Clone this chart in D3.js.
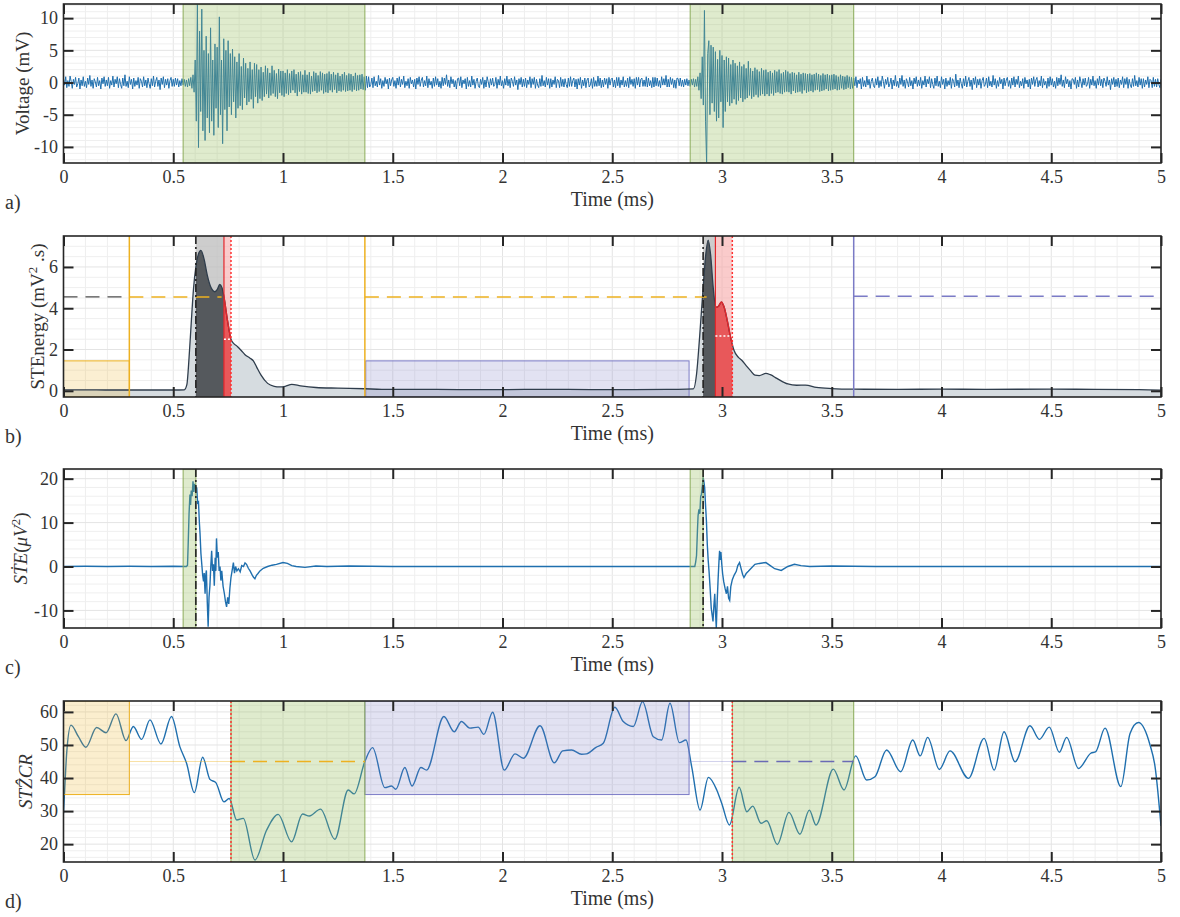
<!DOCTYPE html>
<html><head><meta charset="utf-8">
<script src="https://cdn.jsdelivr.net/npm/d3@7"></script>
<style>
body{margin:0;background:#fff;}
svg{display:block;font-family:"Liberation Serif","Times New Roman",serif;}
</style></head><body>
<svg id="fig" width="1180" height="917"></svg>
<script>
// ---- shared axis values ----
const timeDomain = [0, 5];
const timeTicks = [0, 0.5, 1, 1.5, 2, 2.5, 3, 3.5, 4, 4.5, 5];

// ---- a) raw voltage, sampled every 0.005 ms (mV), one row per 0.1 ms ----
const voltageStep = 0.005;
const voltage = [
 0.6,-0.4,0.9,-0.8,0.3,-0.6,1.0,0.2,-0.9,0.5,-0.3,0.8,-0.7,-0.2,0.7,-1.0,0.4,-0.5,0.9,-0.6,
 0.2,-0.8,0.7,-0.3,1.1,-0.6,0.4,-0.9,0.6,0.1,-0.7,0.8,-0.5,0.3,-1.0,0.7,-0.2,0.9,-0.6,0.4,
 -0.5,0.8,-0.9,0.3,-0.4,1.0,-0.7,0.5,-0.2,0.9,-0.8,0.6,-0.3,-0.9,0.7,-0.5,1.2,-0.6,0.2,-0.8,
 0.9,-0.3,0.5,-1.0,0.7,-0.6,0.3,-0.4,0.8,-0.9,0.6,0.2,-0.7,0.9,-0.5,0.4,-0.8,0.7,-0.2,-0.9,
 0.6,-0.5,1.0,-0.7,0.2,0.8,-0.6,0.4,-1.1,0.7,-0.3,0.9,-0.8,0.5,-0.4,0.6,-0.9,0.3,0.8,-0.6,
 0.5,-0.6,0.7,-0.4,0.6,-0.7,0.3,-0.5,0.6,-0.4,0.5,-0.6,0.4,-0.7,0.6,-0.5,0.8,-0.9,1.2,-1.5,
 3.5,-6.0,12.5,-10.1,8.0,-4.5,11.4,-7.5,5.0,-9.0,7.2,-5.5,4.5,-7.8,8.5,-6.0,3.5,-8.2,6.0,-4.0,
 5.5,-7.0,10.2,-5.0,3.5,-9.5,6.8,-4.2,5.0,-7.5,6.5,-3.8,4.5,-5.0,5.2,-3.0,4.0,-5.5,3.2,-4.0,
 4.5,-3.6,2.5,-4.2,3.8,-2.4,3.0,-3.5,2.2,-3.0,3.2,-2.6,2.0,-4.0,3.0,-2.2,2.8,-3.2,2.0,-2.5,
 2.4,-2.8,1.6,-2.2,2.6,-1.8,2.2,-2.4,1.5,-2.0,2.6,-1.7,1.9,-2.2,1.4,-2.5,2.1,-1.6,1.8,-2.0,
 1.8,-2.2,1.5,-1.7,2.0,-1.9,1.4,-1.6,1.8,-1.2,2.0,-1.6,1.3,-2.1,1.6,-1.4,1.7,-1.8,1.2,-1.5,
 1.9,-1.5,1.2,-1.7,1.6,-1.8,1.0,-1.4,1.7,-1.3,1.5,-1.6,1.1,-1.4,1.7,-1.2,1.5,-1.7,1.3,-1.5,
 1.4,-1.6,1.7,-1.2,1.3,-1.5,1.6,-1.1,1.2,-1.6,1.5,-1.3,1.0,-1.4,1.3,-1.2,1.6,-1.4,1.1,-1.3,
 1.4,-1.2,1.3,-1.4,1.0,-1.1,1.5,-1.3,1.1,-1.2,1.2,-1.0,1.3,-1.1,0.9,-1.2,1.0,-0.8,0.9,-0.7,
 -0.3,0.7,-0.8,0.9,-0.5,0.2,-0.7,1.1,-0.4,0.6,-0.9,0.3,-0.6,0.8,-0.2,0.5,-1.0,0.7,-0.5,0.4,
 0.8,-0.6,0.3,-0.9,0.7,-0.4,0.9,-0.7,0.5,-0.3,1.0,-0.8,0.2,-0.5,0.6,-0.9,0.8,-0.2,0.4,-0.7,
 0.5,-1.0,0.7,-0.3,0.9,-0.6,0.4,0.8,-0.7,0.3,-0.5,1.0,-0.8,0.6,-0.4,0.2,-0.9,0.7,-0.6,0.9,
 -0.4,0.6,-0.7,0.2,-0.9,0.8,-0.5,0.7,-0.3,1.2,-0.6,0.4,-0.8,0.9,-0.2,0.5,-0.7,0.3,-1.0,0.6,
 0.7,-0.5,0.9,-0.8,0.4,-0.2,0.6,-1.0,0.8,-0.6,0.3,-0.7,1.0,-0.4,0.5,-0.9,0.2,0.7,-0.5,-0.8,
 0.5,-0.3,0.8,-0.9,0.4,-0.7,0.9,0.1,-0.8,0.6,-0.4,0.7,-0.6,-0.3,0.8,-0.9,0.5,-0.4,1.0,-0.5,
 0.3,-0.9,0.6,-0.4,1.0,-0.5,0.5,-0.8,0.7,0.2,-0.6,0.9,-0.4,0.4,-1.1,0.6,-0.3,0.8,-0.7,0.5,
 -0.6,0.7,-0.8,0.4,-0.3,0.9,-0.8,0.6,-0.3,0.8,-0.9,0.5,-0.4,-0.8,0.6,-0.6,1.1,-0.5,0.3,-0.7,
 0.8,-0.4,0.6,-0.9,0.6,-0.7,0.4,-0.3,0.9,-0.8,0.5,0.3,-0.8,0.8,-0.6,0.5,-0.7,0.6,-0.3,-0.8,
 0.7,-0.6,0.9,-0.6,0.3,0.7,-0.7,0.5,-1.0,0.6,-0.4,0.8,-0.9,0.4,-0.5,0.7,-0.8,0.4,0.7,-0.7,
 -0.4,0.6,-0.9,0.8,-0.6,0.3,-0.6,1.0,-0.5,0.7,-0.8,0.4,-0.7,0.7,-0.3,0.6,-0.9,0.8,-0.4,0.5,
 0.7,-0.7,0.4,-0.8,0.8,-0.5,0.8,-0.8,0.4,-0.4,0.9,-0.7,0.3,-0.6,0.7,-0.8,0.9,-0.3,0.5,-0.6,
 0.6,-0.9,0.8,-0.4,0.8,-0.7,0.5,0.7,-0.6,0.4,-0.6,0.9,-0.7,0.7,-0.5,0.3,-0.8,0.8,-0.7,0.8,
 -0.5,0.7,-0.6,0.3,-0.8,0.9,-0.4,0.6,-0.4,1.1,-0.7,0.5,-0.7,0.8,-0.3,0.6,-0.8,0.4,-0.9,0.7,
 0.6,-0.5,0.7,-0.6,0.4,-0.7,0.5,-0.4,0.6,-0.5,0.4,-0.6,0.5,-0.4,0.6,-0.7,0.5,-0.6,0.9,-1.2,
 1.5,-2.5,4.0,-3.5,11.2,-6.0,-12.6,4.5,6.5,-5.0,5.8,-3.2,5.5,-4.5,4.8,-6.0,3.6,-5.5,5.0,-3.0,
 4.2,-7.0,3.5,-4.5,4.0,-3.0,3.8,-3.6,2.8,-3.2,3.5,-2.6,3.0,-3.4,2.6,-2.8,3.2,-2.4,2.5,-3.0,
 2.8,-2.6,2.2,-2.4,3.3,-2.0,2.2,-2.5,1.8,-2.2,2.3,-1.9,2.0,-2.3,1.7,-2.0,2.2,-1.8,1.9,-2.1,
 2.0,-1.8,1.6,-2.1,1.8,-1.7,1.5,-2.0,1.9,-1.6,1.7,-1.5,2.0,-1.7,1.4,-1.8,1.6,-1.5,1.9,-1.4,
 1.7,-1.5,1.4,-1.8,1.6,-1.3,1.5,-1.6,1.2,-1.5,1.6,-1.4,1.3,-1.7,1.5,-1.2,1.4,-1.6,1.3,-1.4,
 1.4,-1.3,1.2,-1.5,1.3,-1.2,1.5,-1.1,1.3,-1.4,1.1,-1.3,1.4,-1.2,1.2,-1.0,1.3,-1.3,1.1,-1.2,
 1.2,-1.1,1.3,-1.0,1.1,-1.2,0.9,-1.1,1.2,-0.9,1.0,-1.1,0.9,-1.0,1.1,-0.8,0.9,-1.0,0.8,-0.9,
 0.7,-0.5,0.9,-0.8,0.4,-0.2,0.6,-1.0,0.8,-0.6,0.3,-0.7,1.0,-0.4,0.5,-0.9,0.2,0.7,-0.5,-0.8,
 0.6,-0.4,0.9,-0.8,0.3,-0.6,1.0,0.2,-0.9,0.5,-0.3,0.8,-0.7,-0.2,0.7,-1.0,0.4,-0.5,1.1,-0.6,
 0.2,-0.8,0.7,-0.3,1.1,-0.6,0.4,-0.9,0.6,0.1,-0.7,0.8,-0.5,0.3,-1.0,0.7,-0.2,0.9,-0.6,0.4,
 -0.5,0.8,-0.9,0.3,-0.4,1.0,-0.7,0.5,-0.2,0.9,-0.8,0.6,-0.3,-0.9,0.7,-0.5,1.0,-0.6,0.2,-0.8,
 0.9,-0.3,0.5,-1.0,0.7,-0.6,0.3,-0.4,0.8,-0.9,0.6,0.2,-0.7,1.3,-0.5,0.4,-0.8,0.7,-0.2,-0.9,
 0.6,-0.5,1.0,-0.7,0.2,0.8,-0.6,0.4,-1.1,0.7,-0.3,0.9,-0.8,0.5,-0.4,0.6,-0.9,0.3,0.8,-0.6,
 -0.3,0.7,-0.8,0.9,-0.5,0.2,-0.7,1.1,-0.4,0.6,-0.9,0.3,-0.6,0.8,-0.2,0.5,-1.0,0.7,-0.5,0.4,
 0.8,-0.6,0.3,-0.9,0.7,-0.4,0.9,-0.7,0.5,-0.3,1.0,-0.8,0.2,-0.5,0.6,-0.9,0.8,-0.2,0.4,-0.7,
 0.5,-1.0,0.7,-0.3,0.9,-0.6,0.4,0.8,-0.7,0.3,-0.5,1.0,-0.8,0.6,-0.4,0.2,-0.9,0.7,-0.6,0.9,
 -0.4,0.6,-0.7,0.2,-0.9,0.8,-0.5,0.7,-0.3,1.2,-0.6,0.4,-0.8,0.9,-0.2,0.5,-0.7,0.3,-1.0,0.6,
 0.5,-0.3,0.8,-0.9,0.4,-0.7,0.9,0.1,-0.8,0.6,-0.4,0.7,-0.6,-0.3,0.8,-0.9,0.5,-0.4,1.0,-0.5,
 0.3,-0.9,0.6,-0.4,1.0,-0.5,0.5,-0.8,0.7,0.2,-0.6,0.9,-0.4,0.4,-1.1,0.6,-0.3,0.8,-0.7,0.5,
 -0.6,0.7,-0.8,0.4,-0.3,0.9,-0.8,0.6,-0.3,0.8,-0.9,0.5,-0.4,-0.8,0.6,-0.6,1.1,-0.5,0.3,-0.7,
 0.8,-0.4,0.6,-0.9,0.6,-0.7,0.4,-0.3,0.9,-0.8,0.5,0.3,-0.8,0.8,-0.6,0.5,-0.7,0.6,-0.3,-0.8,
 0.5
];
const voltageTicks = [-10, -5, 0, 5, 10];
// detected event windows (ms)
const eventWindows = [[0.545, 1.373], [2.855, 3.6]];

// ---- b) short-time energy (mV^2.s) ----
const steTime = [0,0.1,0.2,0.3,0.4,0.5,0.55,0.562,0.572,0.582,0.592,0.603,0.614,0.626,0.64,0.655,0.67,0.69,0.70,0.712,0.722,0.731,0.748,0.763,0.775,0.792,0.81,0.827,0.85,0.865,0.88,0.9,0.93,0.96,0.985,1.01,1.04,1.08,1.15,1.25,1.373,1.45,1.6,1.8,2.0,2.2,2.4,2.6,2.8,2.87,2.884,2.898,2.914,2.926,2.937,2.948,2.96,2.972,2.984,2.997,3.01,3.025,3.04,3.055,3.075,3.09,3.11,3.13,3.15,3.17,3.2,3.22,3.25,3.3,3.34,3.38,3.43,3.5,3.6,3.8,4.0,4.2,4.5,4.7,4.9,5.0];
const steValue = [0.05,0.05,0.04,0.04,0.04,0.04,0.05,0.3,1.6,3.3,4.9,6.0,6.6,6.8,6.4,5.6,5.05,4.8,4.9,5.15,5.0,4.55,3.35,2.5,2.3,2.15,1.95,1.75,1.58,1.45,1.15,0.76,0.36,0.22,0.19,0.22,0.31,0.24,0.16,0.13,0.1,0.07,0.07,0.06,0.06,0.07,0.06,0.06,0.07,0.09,0.8,2.6,5.0,6.6,7.3,6.6,5.0,4.05,4.1,4.3,4.05,3.35,2.55,1.95,1.62,1.48,1.22,0.98,0.76,0.74,0.84,0.78,0.6,0.33,0.27,0.28,0.17,0.11,0.08,0.07,0.08,0.07,0.08,0.07,0.06,0.03];
const steTicks = [0, 2, 4, 6];
const steThreshold = 4.55;
const steThreshold2 = 4.58;
const peakWindows = [[0.603, 0.731], [2.914, 2.97]];
const decayWindows = [[0.731, 0.763], [2.97, 3.047]];
const decayLevels = [2.5, 2.66];
const quietBoxes = [[0, 0.3, 1.45], [1.377, 2.85, 1.45]];

// ---- c) energy derivative (uV^2) ----
const dsteTime = [0,0.1,0.2,0.3,0.4,0.5,0.56,0.565,0.568,0.572,0.576,0.579,0.582,0.586,0.59,0.594,0.598,0.603,0.607,0.611,0.615,0.619,0.622,0.626,0.63,0.634,0.638,0.641,0.645,0.648,0.651,0.655,0.659,0.663,0.667,0.671,0.675,0.679,0.683,0.687,0.691,0.694,0.697,0.701,0.705,0.709,0.713,0.717,0.721,0.727,0.733,0.738,0.743,0.748,0.753,0.758,0.763,0.768,0.774,0.779,0.784,0.79,0.797,0.805,0.812,0.82,0.827,0.834,0.842,0.85,0.858,0.865,0.872,0.879,0.886,0.895,0.91,0.93,0.95,0.97,1.0,1.02,1.04,1.06,1.1,1.15,1.2,1.3,1.5,2.0,2.5,2.876,2.88,2.884,2.888,2.891,2.895,2.899,2.903,2.906,2.91,2.914,2.917,2.921,2.925,2.929,2.933,2.937,2.941,2.946,2.951,2.955,2.959,2.963,2.967,2.97,2.974,2.978,2.982,2.986,2.989,2.992,2.995,2.999,3.003,3.008,3.014,3.02,3.025,3.03,3.035,3.04,3.047,3.055,3.065,3.072,3.08,3.087,3.094,3.1,3.11,3.12,3.135,3.15,3.17,3.2,3.22,3.24,3.27,3.3,3.33,3.36,3.4,3.5,3.7,4.0,4.5,5.0];
const dsteValue = [0,0.05,0,0.05,0,0.05,0,0.3,5,12,16.4,14,17.3,16,19.4,17,18.8,18,17.9,14.5,14.7,10,7.5,3,0.5,-2,-3.4,-1.5,-6.2,-2,-0.9,-8,-13.7,-7,-4.4,0,3.6,-1,0.5,-4.4,2,-1,6.4,2,3.3,-1,0,-3.2,-1,-4.5,-6.2,-8,-9.2,-7,-8.5,-5,-2.5,-1,0.9,-1.5,0,-1,-0.5,-1.2,0.2,0,0.8,0.5,-0.4,-1,-1.8,-2.4,-2.8,-2,-1.6,-1,-0.4,0,0.3,0.5,0.9,0.7,0.2,0,-0.2,0.1,0,0.1,0,0,0,0,1,2.5,8,11.6,13,12,16,16.3,18,20.3,19.5,18,14,10.4,5,1.5,-1.1,-5,-9.5,-11,-12.5,-9,-6.2,-10,-14,-8,-3.2,1,3.6,1.5,3.3,0.5,-1.7,-3.5,-5,-6.2,-4.5,-7.2,-7.7,-4.6,-3,-2,-1.1,0.2,0.9,-0.5,-1.8,-2.5,-1.6,-1.1,-0.3,0.5,0.7,0.9,0.2,-0.5,-0.9,0,0.5,0.2,0,0.1,0,0,0,0];
const dsteTicks = [-10, 0, 10, 20];
const onsetWindows = [[0.545, 0.603], [2.855, 2.914]];

// ---- d) short-time zero-crossing rate ----
const zcrTime = [0,0.008,0.015,0.034,0.068,0.102,0.151,0.194,0.239,0.285,0.318,0.356,0.394,0.444,0.492,0.53,0.561,0.596,0.634,0.667,0.694,0.731,0.755,0.789,0.819,0.872,0.925,0.978,1.039,1.089,1.12,1.171,1.236,1.297,1.324,1.373,1.408,1.464,1.494,1.514,1.555,1.588,1.628,1.654,1.733,1.78,1.813,1.851,1.889,1.915,1.955,2.008,2.057,2.095,2.171,2.236,2.274,2.315,2.36,2.383,2.426,2.459,2.512,2.55,2.596,2.638,2.687,2.725,2.763,2.806,2.836,2.862,2.9,2.938,2.976,2.999,3.034,3.078,3.113,3.14,3.178,3.204,3.252,3.305,3.355,3.398,3.428,3.507,3.556,3.609,3.659,3.697,3.75,3.814,3.869,3.903,3.937,3.99,4.039,4.123,4.194,4.24,4.285,4.335,4.403,4.446,4.491,4.537,4.57,4.624,4.68,4.703,4.745,4.817,4.859,4.897,4.95,4.973,5.0];
const zcrValue = [29.3,40,48,56,52.5,49.3,55.3,53.7,59.4,51.3,55.6,51.7,57.6,50.3,58.6,49.5,44.4,35.6,46.3,39.6,38.6,32.8,33.8,27.3,27.8,15.2,24.2,29,20.7,29.1,28.5,30.6,21.5,36.4,35.2,45,49.2,37.1,37.6,36.6,43.2,37.6,43.2,42.4,58.6,54,57.1,55.1,55.4,53.2,59.9,42.4,47.3,46,55.8,44.6,48.2,48.5,47.2,47.3,49.3,50.5,61.4,57.1,55.6,63.1,52.5,51.5,62.6,50.7,51.5,43.4,30.3,40.2,36.4,32.3,25.8,37.2,29.8,31.5,26.3,27.1,19.9,29.6,23,30.3,25.8,42.7,36.4,46.7,39.4,40.4,48.5,41.9,51.5,46.7,52.3,42.6,48.2,39.9,52,42.4,54,44.9,55.8,51.7,55.4,47.8,52.3,42.9,47.5,48,55.1,37.4,53.5,56.8,50,43.4,25.5];
const zcrTicks = [20, 30, 40, 50, 60];
const zcrThreshold = 45;
const zcrBoxes = [[0, 0.3, 35], [1.373, 2.85, 35]];
const zcrWindows = [[0.763, 1.373], [3.047, 3.6]];

// ---- styling ----
const C = {
  signal: "#1f6fae", axis: "#262626", text: "#333",
  gridMinor: "#efefef", gridMajor: "#e4e4e4",
  green: "#96be5a", greenEdge: "#8cad5c",
  yellow: "#edb120", blue: "#7b7bc6", red: "#ff3030",
  steLine: "#2f3d4c", steFill: "#d6dce0", peakBand: "#bcbcbc", peakFill: "#55595d",
  decayBand: "#f6a8a8", decayFill: "#e84d4f", decayLine: "#e3262b"
};
const FONT = "'Liberation Serif', 'Times New Roman', serif";
const X0 = 63.5, X1 = 1161;
const svg = d3.select("#fig");
const defs = svg.append("defs");
const x = d3.scaleLinear().domain(timeDomain).range([X0, X1]);

function makePanel(key, top, bottom, yDomain, yTicks, yMinor) {
  const y = d3.scaleLinear().domain(yDomain).range([bottom, top]);
  const g = svg.append("g");
  defs.append("clipPath").attr("id", "clip-" + key).append("rect")
    .attr("x", X0).attr("y", top).attr("width", X1 - X0).attr("height", bottom - top);
  const grid = g.append("g");
  d3.range(0, 5.0001, 0.1).forEach(v => {
    grid.append("line").attr("x1", x(v)).attr("x2", x(v)).attr("y1", top).attr("y2", bottom)
      .attr("stroke", Math.abs(v * 2 - Math.round(v * 2)) < 1e-6 ? C.gridMajor : C.gridMinor).attr("stroke-width", 1);
  });
  const start = Math.ceil(yDomain[0] / yMinor) * yMinor;
  d3.range(start, yDomain[1], yMinor).forEach(v => {
    grid.append("line").attr("x1", X0).attr("x2", X1).attr("y1", y(v)).attr("y2", y(v))
      .attr("stroke", yTicks.some(t => Math.abs(t - v) < 1e-6) ? C.gridMajor : C.gridMinor).attr("stroke-width", 1);
  });
  const plot = g.append("g").attr("clip-path", `url(#clip-${key})`);
  return { g, plot, y, top, bottom, yTicks, key };
}

function finishPanel(p, letter, ylabel) {
  const { g, y, top, bottom, yTicks } = p;
  const fmt = d => String(d);
  const style = sel => {
    sel.attr("font-family", FONT);
    sel.select(".domain").remove();
    sel.selectAll(".tick line").attr("stroke", C.axis).attr("stroke-width", 2);
    sel.selectAll(".tick text").attr("fill", C.text).attr("font-size", 18).attr("font-family", FONT);
  };
  g.append("g").attr("transform", `translate(0,${bottom})`)
    .call(d3.axisBottom(x).tickValues(timeTicks).tickFormat(fmt).tickSizeInner(-10).tickSizeOuter(0).tickPadding(7)).call(style);
  g.append("g").attr("transform", `translate(0,${top})`)
    .call(d3.axisTop(x).tickValues(timeTicks).tickFormat("").tickSizeInner(-10).tickSizeOuter(0)).call(style);
  g.append("g").attr("transform", `translate(${X0},0)`)
    .call(d3.axisLeft(y).tickValues(yTicks).tickFormat(fmt).tickSizeInner(-10).tickSizeOuter(0).tickPadding(5.5)).call(style);
  g.append("g").attr("transform", `translate(${X1},0)`)
    .call(d3.axisRight(y).tickValues(yTicks).tickFormat("").tickSizeInner(-10).tickSizeOuter(0)).call(style);
  g.append("rect").attr("x", X0).attr("y", top).attr("width", X1 - X0).attr("height", bottom - top)
    .attr("fill", "none").attr("stroke", C.axis).attr("stroke-width", 1.6);
  g.append("text").attr("x", (X0 + X1) / 2).attr("y", bottom + 43).attr("text-anchor", "middle")
    .attr("font-family", FONT).attr("font-size", 20).attr("fill", C.text).text("Time (ms)");
  g.append("text").attr("x", 5).attr("y", bottom + 46).attr("font-family", FONT).attr("font-size", 20).attr("fill", C.text).text(letter + ")");
  const lab = g.append("text").attr("transform", `translate(${ylabel.x},${(top + bottom) / 2}) rotate(-90)`)
    .attr("text-anchor", "middle").attr("dy", "0.35em").attr("font-family", FONT).attr("font-size", 19).attr("fill", C.text);
  ylabel.build(lab);
}

function vband(p, a, b, fill, op, stroke) {
  p.plot.append("rect").attr("x", x(a)).attr("width", x(b) - x(a)).attr("y", p.top).attr("height", p.bottom - p.top)
    .attr("fill", fill).attr("fill-opacity", op)
    .attr("stroke", stroke || "none").attr("stroke-width", 1);
}
function vline(p, t, color, width, dash) {
  p.plot.append("line").attr("x1", x(t)).attr("x2", x(t)).attr("y1", p.top).attr("y2", p.bottom)
    .attr("stroke", color).attr("stroke-width", width).attr("stroke-dasharray", dash || null);
}
function hline(p, a, b, v, color, width, dash, op) {
  p.plot.append("line").attr("x1", x(a)).attr("x2", x(b)).attr("y1", p.y(v)).attr("y2", p.y(v))
    .attr("stroke", color).attr("stroke-width", width).attr("stroke-dasharray", dash || null)
    .attr("stroke-opacity", op == null ? 1 : op);
}

// ================= a) voltage =================
const pa = makePanel("a", 4, 163, [-12.5, 12.2], voltageTicks, 1);
pa.plot.append("path")
  .attr("d", d3.line().x((d, i) => x(i * voltageStep)).y(d => pa.y(d))(voltage))
  .attr("fill", "none").attr("stroke", C.signal).attr("stroke-width", 1);
eventWindows.forEach(([a, b]) => vband(pa, a, b, C.green, 0.3, C.greenEdge));
finishPanel(pa, "a", { x: 22, build: t => t.text("Voltage (mV)") });

// ================= b) short-time energy =================
const pb = makePanel("b", 236, 397, [-0.3, 7.5], steTicks, 0.5);
const steData = steTime.map((t, i) => [t, steValue[i]]);
const steArea = d3.area().x(d => x(d[0])).y0(pb.y(-0.3)).y1(d => pb.y(d[1])).curve(d3.curveMonotoneX);
const steLine = d3.line().x(d => x(d[0])).y(d => pb.y(d[1])).curve(d3.curveMonotoneX);
pb.plot.append("path").attr("d", steArea(steData)).attr("fill", C.steFill);
quietBoxes.forEach(([a, b, h], i) => {
  const col = i === 0 ? C.yellow : C.blue;
  pb.plot.append("rect").attr("x", x(a)).attr("width", x(b) - x(a))
    .attr("y", pb.y(h)).attr("height", pb.y(-0.3) - pb.y(h))
    .attr("fill", col).attr("fill-opacity", i === 0 ? 0.2 : 0.22).attr("stroke", col).attr("stroke-width", 1);
});
peakWindows.forEach(([a, b]) => vband(pb, a, b, C.peakBand, 0.75));
decayWindows.forEach(([a, b]) => vband(pb, a, b, C.decayBand, 0.6));
function clippedArea(id, wins, fill, op) {
  const cp = defs.append("clipPath").attr("id", id);
  wins.forEach(([a, b]) => cp.append("rect").attr("x", x(a)).attr("width", x(b) - x(a)).attr("y", pb.top).attr("height", pb.bottom - pb.top));
  pb.plot.append("path").attr("d", steArea(steData)).attr("fill", fill).attr("fill-opacity", op).attr("clip-path", `url(#${id})`);
}
clippedArea("clip-peak", peakWindows, C.peakFill, 1);
clippedArea("clip-decay", decayWindows, C.decayFill, 0.9);
pb.plot.append("path").attr("d", steLine(steData)).attr("fill", "none").attr("stroke", C.steLine).attr("stroke-width", 1.3);
pb.plot.append("path").attr("d", steLine(steData)).attr("fill", "none").attr("stroke", C.decayLine).attr("stroke-width", 1.4)
  .attr("clip-path", "url(#clip-decay)");
decayWindows.forEach(([a, b]) => { vline(pb, a, C.decayLine, 1.2); vline(pb, b, C.red, 1.5, "2,2"); });
decayWindows.forEach(([a, b], i) => hline(pb, a, b, decayLevels[i], "#fff", 1.5, "2,2"));
// thresholds and detector limits
hline(pb, 0, 0.3, steThreshold, "#4d4d4d", 1.3, "14,8");
hline(pb, 0.3, 0.72, steThreshold, C.yellow, 1.5, "14,8");
hline(pb, 1.373, 2.93, steThreshold, C.yellow, 1.5, "14,8");
hline(pb, 3.6, 5, steThreshold2, C.blue, 1.3, "14,8");
vline(pb, 0.3, C.yellow, 1.5);
vline(pb, 1.373, C.yellow, 1.5);
vline(pb, 3.6, C.blue, 1.5);
peakWindows.forEach(([a]) => vline(pb, a, "#222", 1.6, "8,3,2,3"));
finishPanel(pb, "b", { x: 37, build: t => {
  t.append("tspan").text("STEnergy (mV");
  t.append("tspan").attr("dy", -7).attr("font-size", 13).text("2");
  t.append("tspan").attr("dy", 7).text(" .s)");
}});

// ================= c) energy derivative =================
const pc = makePanel("c", 469, 628, [-14, 22.2], dsteTicks, 2);
const dsteData = dsteTime.map((t, i) => [t, dsteValue[i]]);
pc.plot.append("path")
  .attr("d", d3.line().x(d => x(d[0])).y(d => pc.y(d[1]))(dsteData))
  .attr("fill", "none").attr("stroke", C.signal).attr("stroke-width", 1.4);
onsetWindows.forEach(([a, b]) => vband(pc, a, b, C.green, 0.3, C.greenEdge));
onsetWindows.forEach(([, b]) => vline(pc, b, "#222", 1.6, "8,3,2,3"));
finishPanel(pc, "c", { x: 20, build: t => {
  t.append("tspan").attr("font-style", "italic").text("S\u1E6AE");
  t.append("tspan").text("(");
  t.append("tspan").attr("font-style", "italic").text("\u03BCV");
  t.append("tspan").attr("dy", -7).attr("font-size", 13).text("2");
  t.append("tspan").attr("dy", 7).text(")");
}});

// ================= d) zero-crossing rate =================
const pd = makePanel("d", 701, 862, [14.6, 63.3], zcrTicks, 2);
const zcrData = zcrTime.map((t, i) => [t, zcrValue[i]]);
pd.plot.append("path")
  .attr("d", d3.line().x(d => x(d[0])).y(d => pd.y(d[1])).curve(d3.curveMonotoneX)(zcrData))
  .attr("fill", "none").attr("stroke", C.signal).attr("stroke-width", 1.4);
zcrBoxes.forEach(([a, b, lo], i) => {
  const col = i === 0 ? C.yellow : C.blue;
  pd.plot.append("rect").attr("x", x(a)).attr("width", x(b) - x(a))
    .attr("y", pd.top).attr("height", pd.y(lo) - pd.top)
    .attr("fill", col).attr("fill-opacity", 0.22).attr("stroke", col).attr("stroke-width", 1);
});
zcrWindows.forEach(([a, b]) => vband(pd, a, b, C.green, 0.3, C.greenEdge));
hline(pd, 0.3, 0.763, zcrThreshold, C.yellow, 1, null, 0.4);
hline(pd, 0.763, 1.373, zcrThreshold, C.yellow, 1.5, "14,8");
hline(pd, 2.85, 3.047, zcrThreshold, C.blue, 1, null, 0.35);
hline(pd, 3.047, 3.6, zcrThreshold, "#6a6ab5", 1.5, "14,8");
zcrWindows.forEach(([a]) => vline(pd, a, C.red, 1.5, "2,2"));
finishPanel(pd, "d", { x: 25, build: t => {
  t.append("tspan").attr("font-style", "italic").text("ST");
  t.append("tspan").attr("font-style", "italic").text("\u1E90");
  t.append("tspan").attr("font-style", "italic").text("CR");
}});
</script>
</body></html>
